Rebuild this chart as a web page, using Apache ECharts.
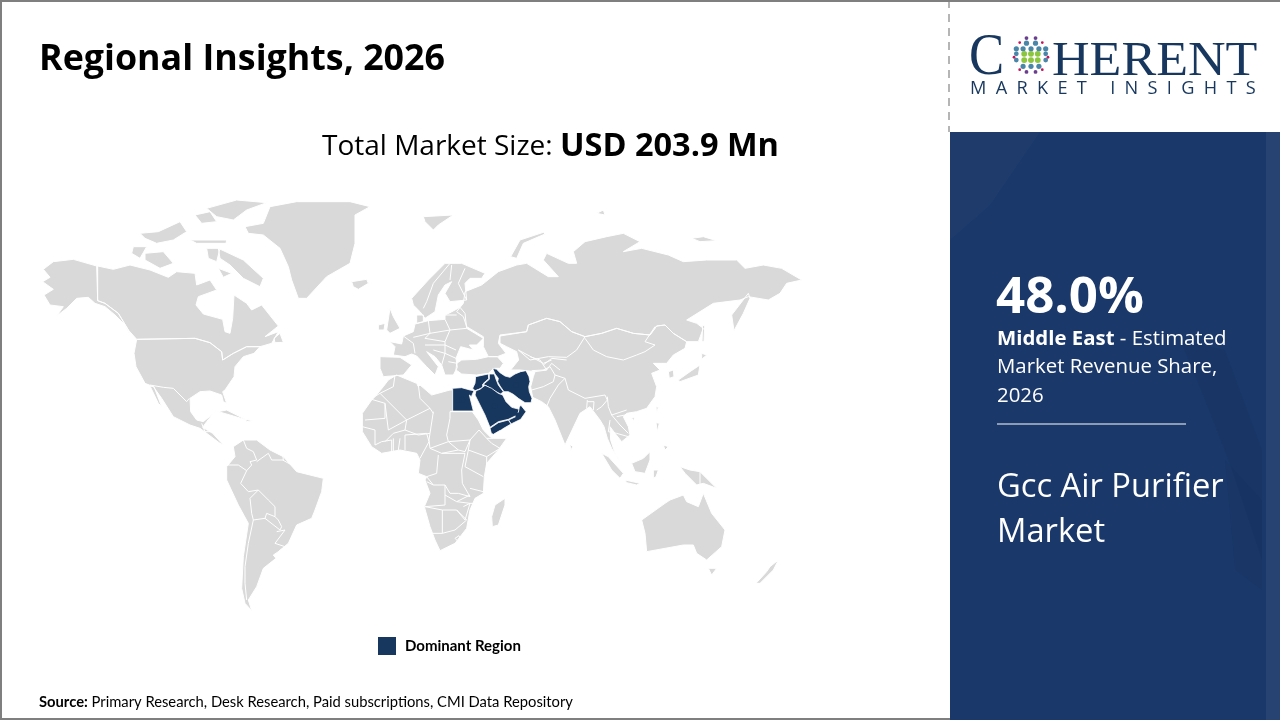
<!DOCTYPE html>
<html>
<head>
<meta charset="utf-8">
<style>
html,body{margin:0;padding:0;background:#fff;width:1280px;height:720px;overflow:hidden}
#c{position:absolute;left:0;top:0;width:1280px;height:720px}
.lg{position:absolute;color:#17375e;white-space:nowrap;line-height:1}
</style>
<script src="https://cdn.jsdelivr.net/npm/echarts@6/dist/echarts.min.js"></script>
</head>
<body>
<div id="c"></div>
<div class="lg" style="left:969px;top:20px;font:60px 'Liberation Serif';transform-origin:0 0;transform:scaleX(.88)">C</div>
<div class="lg" style="left:1052px;top:31px;font:48px 'Liberation Serif';transform-origin:0 0;transform:scaleX(1.085)">HERENT</div>
<div class="lg" style="left:970px;top:75px;font:18.2px 'Open Sans';letter-spacing:9.3px">MARKET INSIGHTS</div>
<script>
// ---------- Text content ----------
const pageTitle = 'Regional Insights, 2026';
const totalLabel = 'Total Market Size: ';
const totalValue = 'USD 203.9 Mn';
const sharePercent = '48.0%';
const shareRegion = 'Middle East';
const shareLines = [' - Estimated', 'Market Revenue Share,', '2026'];
const marketLines = ['Gcc Air Purifier', 'Market'];
const legendName = 'Dominant Region';
const sourceLabel = 'Source:';
const sourceText = ' Primary Research, Desk Research, Paid subscriptions, CMI Data Repository';

// ---------- Map outlines (each set in its own trace frame) ----------
const frameA = {x:30, y:190};
const frameB = {x:420, y:200};
const frameD = {x:430, y:350};
const frameE = {x:370, y:250};
const frameF = {x:355, y:370};
const frameG = {x:530, y:300};

const landA = [
 [[70,215],[130,208],[200,228],[203,332],[225,340],[265,370],[295,420],[300,435],[285,405],[255,375],[225,350],[195,340],[175,322],[140,325],[110,355],[80,378],[100,350],[60,345],[42,315],[70,298],[38,275],[60,262],[40,238]],
 [[203,228],[250,238],[300,225],[360,240],[415,262],[440,245],[495,250],[500,285],[540,270],[560,300],[505,320],[498,345],[520,372],[578,388],[585,425],[600,430],[608,385],[612,315],[650,340],[665,360],[695,345],[745,408],[705,440],[745,425],[725,460],[690,470],[650,470],[610,490],[578,510],[575,485],[540,458],[495,445],[320,448],[295,420],[265,370],[225,340],[203,332]],
 [[732,445],[750,430],[760,457],[735,458]],
 [[320,448],[495,445],[540,458],[575,485],[578,510],[610,490],[650,470],[690,470],[672,490],[640,500],[615,530],[612,560],[585,600],[578,605],[590,640],[580,635],[575,615],[540,603],[510,605],[480,625],[482,665],[500,690],[520,695],[548,672],[530,695],[518,712],[548,730],[580,765],[570,760],[510,715],[480,705],[430,680],[395,625],[370,590],[345,580],[318,530],[312,490]],
 [[360,588],[372,590],[395,650],[385,640]],
 [[565,665],[590,660],[650,690],[610,678]],
 [[645,688],[668,692],[650,695]],
 [[645,110],[700,100],[720,50],[800,35],[960,35],[1020,50],[975,75],[975,160],[960,220],[890,260],[830,325],[805,325],[785,270],[775,230],[750,175],[700,135],[655,130]],
 [[965,275],[1010,268],[1015,280],[985,298],[970,290]],
 [[565,175],[640,210],[700,265],[690,290],[640,265],[600,225],[570,205]],
 [[345,190],[400,185],[430,220],[390,235],[345,210]],
 [[310,170],[350,170],[330,205],[305,190]],
 [[530,55],[620,30],[710,38],[650,60],[610,90],[560,80]],
 [[495,75],[540,65],[560,95],[515,100]],
 [[330,130],[385,125],[450,95],[470,125],[430,150],[380,160],[345,145]],
 [[480,150],[590,150],[588,160],[500,160]],
 [[530,175],[570,175],[560,215],[535,205]],
 [[565,235],[605,250],[580,262]],
 [[640,750],[680,750],[720,780],[760,800],[800,845],[880,865],[875,905],[855,960],[845,985],[800,1005],[775,1060],[745,1085],[730,1095],[738,1105],[700,1135],[680,1190],[655,1230],[665,1262],[645,1240],[635,1195],[640,1100],[655,1000],[625,945],[590,870],[590,830],[615,800],[610,770]]
];
const bordersA = [
 [[590,825],[625,825],[650,842]],
 [[650,842],[665,825],[660,815],[680,810],[670,785],[650,775],[640,750]],
 [[680,815],[715,790],[725,810],[760,810],[758,790]],
 [[758,810],[785,825],[780,805]],
 [[650,842],[632,880],[655,905],[685,900],[660,925],[665,970],[670,990],[655,1060],[645,1130],[645,1180],[650,1230]],
 [[685,900],[715,930],[735,950],[735,980],[710,970],[705,985],[670,990]],
 [[705,985],[750,1020],[755,1010],[745,990],[735,980]],
 [[740,1025],[765,1020],[735,1060],[765,1070],[745,1085]],
 [[360,585],[400,592],[430,595],[470,635],[478,625]],
 [[515,700],[525,725],[548,725]]
];
const landB = [
 [[130,310],[135,275],[185,255],[235,215],[290,195],[320,190],[385,230],[415,230],[370,180],[380,160],[445,190],[470,190],[460,155],[495,125],[560,110],[610,100],[660,125],[610,155],[665,145],[745,165],[790,185],[860,180],[950,180],[975,205],[1030,195],[1085,205],[1145,240],[1100,250],[1080,280],[1045,300],[985,290],[960,300],[880,310],[800,360],[830,370],[850,385],[835,425],[800,425],[760,400],[735,375],[710,378],[690,405],[640,400],[590,385],[545,400],[495,410],[455,395],[420,365],[380,355],[325,375],[320,395],[240,405],[235,430],[258,460],[232,470],[205,470],[190,440],[190,410],[140,380],[130,350],[110,335]],
 [[240,408],[320,395],[325,375],[380,355],[420,365],[455,395],[495,410],[545,400],[590,385],[640,400],[690,405],[710,378],[735,375],[760,400],[800,425],[795,445],[760,465],[740,490],[700,490],[720,510],[695,520],[710,560],[705,590],[680,625],[650,635],[620,640],[610,650],[625,680],[630,705],[605,725],[585,700],[570,680],[572,720],[585,760],[600,785],[575,745],[562,715],[552,680],[540,660],[510,620],[480,640],[435,735],[405,660],[385,620],[365,605],[338,592],[332,560],[340,530],[345,515],[300,510],[272,510],[296,480],[290,455],[260,440],[240,430]],
 [[110,490],[125,480],[170,478],[205,470],[232,470],[250,490],[240,505],[222,505],[205,520],[170,525],[125,522],[108,510]],
 [[10,50],[100,45],[55,75],[40,90],[15,65]],
 [[370,97],[300,120],[272,170],[290,175],[310,130],[375,102]],
 [[530,40],[550,30],[555,45]],
 [[815,115],[850,110],[890,122],[840,125]],
 [[935,345],[985,280],[990,295],[970,340],[942,392]],
 [[665,960],[735,910],[750,900],[790,885],[800,905],[835,920],[850,880],[875,940],[915,990],[905,1040],[860,1080],[830,1060],[820,1035],[790,1035],[680,1055],[675,1000]],
 [[865,1105],[890,1105],[875,1125]],
 [[1075,1080],[1060,1110],[1020,1150],[1008,1150],[1040,1115],[1050,1100]]
];
const bordersB = [
 [[295,450],[330,480],[385,470],[440,472],[470,450],[495,410]],
 [[295,450],[370,490],[395,480]],
 [[345,515],[380,510],[395,490],[420,510]]
];
const dominantD = {
 'Egypt': [[68,115],[95,113],[120,120],[132,122],[124,140],[118,135],[130,183],[68,183]],
 'Levant': [[135,100],[137,80],[175,72],[176,86],[158,102],[158,112],[146,118],[135,122],[128,115]],
 'Iraq': [[178,72],[193,72],[198,88],[205,105],[220,125],[212,132],[198,125],[170,108],[160,103],[178,88]],
 'Iran': [[188,55],[200,58],[210,68],[225,78],[240,82],[255,72],[272,65],[288,62],[297,80],[300,95],[296,110],[298,125],[306,145],[303,158],[285,158],[265,145],[250,133],[235,125],[222,125],[210,108],[203,95],[205,85],[195,72]],
 'Saudi Arabia': [[138,122],[150,118],[165,106],[185,115],[205,130],[218,135],[228,155],[245,172],[268,178],[262,195],[235,208],[205,215],[190,225],[180,232],[165,195],[150,165],[135,135]],
 'Oman': [[268,172],[272,165],[288,185],[272,208],[243,222],[236,210],[263,197]],
 'Yemen': [[180,235],[205,218],[235,210],[243,222],[190,253],[184,250]]
};
const dominantNames = Object.keys(dominantD);
const landE = [
 [[30,320],[90,322],[125,345],[100,375],[40,380],[30,355]],
 [[60,275],[95,282],[100,258],[130,245],[135,222],[175,212],[225,208],[225,195],[240,188],[270,172],[285,190],[290,235],[340,265],[320,285],[298,285],[310,300],[272,290],[258,325],[262,352],[250,375],[225,375],[215,345],[195,320],[170,305],[205,350],[195,375],[170,350],[140,318],[125,312],[105,320],[70,315],[75,290]],
 [[140,195],[160,195],[160,215],[140,220]],
 [[125,145],[175,90],[225,40],[275,40],[345,70],[335,85],[300,85],[285,100],[290,150],[240,155],[225,130],[245,95],[225,105],[205,135],[195,185],[165,205],[150,185],[130,165]],
 [[60,175],[70,200],[90,235],[60,250],[50,240]],
 [[25,225],[45,220],[42,240],[25,240]]
];
const bordersE = [
 [[240,40],[190,100],[170,155],[160,175]],
 [[245,45],[240,90]],
 [[285,55],[265,100],[290,150]],
 [[100,258],[130,280],[135,310]],
 [[175,212],[180,250],[130,262]],
 [[225,208],[240,240],[180,250]],
 [[240,240],[290,235]],
 [[180,250],[165,265],[225,275],[240,240]],
 [[165,285],[225,285],[258,300]],
 [[225,275],[225,310],[258,325]],
 [[190,300],[225,310],[215,345]],
 [[225,195],[260,195]],
 [[235,335],[262,340]]
];
const landF = [
 [[100,30],[125,15],[185,40],[190,50],[195,45],[230,75],[285,60],[293,60],[293,125],[352,125],[370,150],[385,180],[405,200],[415,205],[455,205],[430,240],[395,280],[388,320],[385,370],[360,385],[345,420],[335,475],[300,520],[255,542],[240,510],[225,470],[208,410],[225,370],[210,330],[215,320],[190,310],[195,270],[185,250],[135,240],[80,250],[50,230],[22,185],[22,130],[50,90],[60,80],[85,50]],
 [[450,385],[450,405],[430,465],[412,470],[410,440],[420,405]]
];
const bordersF = [
 [[120,15],[115,50],[75,70],[50,85]],
 [[50,88],[90,100],[90,145],[30,150]],
 [[75,70],[155,150],[225,115],[195,85],[190,45]],
 [[225,115],[235,130]],
 [[293,125],[285,125],[285,145],[275,195],[280,215]],
 [[235,125],[225,190],[222,210],[225,235]],
 [[90,100],[100,180],[155,150],[150,180],[115,190],[90,215]],
 [[150,180],[190,195],[225,190]],
 [[150,195],[150,240]],
 [[150,195],[215,190],[222,215],[195,265]],
 [[225,235],[280,215],[310,240],[260,250],[225,235]],
 [[280,215],[345,210],[330,245],[310,240]],
 [[345,210],[372,180],[395,205],[415,205]],
 [[345,210],[340,240],[395,260],[435,235],[410,220],[395,205]],
 [[395,260],[395,295]],
 [[340,240],[330,290],[385,320]],
 [[260,250],[330,250],[320,300],[322,340],[345,380],[310,370],[285,370],[270,345],[235,345],[215,320],[245,310],[250,255]],
 [[345,355],[385,365]],
 [[215,335],[235,345]],
 [[270,345],[270,405],[210,410]],
 [[270,375],[305,395],[345,375]],
 [[210,410],[262,420],[262,490],[232,490]],
 [[262,420],[305,420],[335,450],[300,480],[262,490]],
 [[360,400],[345,400],[325,410]],
 [[305,395],[345,400],[330,450],[305,420]],
 [[300,505],[312,497],[320,507],[308,513],[300,505]],
 [[22,170],[60,180],[60,225]],
 [[60,225],[80,215],[110,210],[110,250]],
 [[135,205],[130,240]],
 [[115,205],[115,245]]
];
const landG = [
 [[518,75],[524,78],[522,125],[516,125]],
 [[515,160],[530,165],[515,178]],
 [[510,195],[505,225],[450,245],[445,240],[480,215]],
 [[415,215],[430,210],[432,230],[418,235]],
 [[378,320],[385,322],[380,338]],
 [[305,355],[315,352],[310,362]],
 [[378,368],[388,370],[382,395]],
 [[400,435],[415,440],[405,450]],
 [[120,432],[128,440],[122,452]],
 [[215,460],[235,470],[280,520],[270,535],[245,510]],
 [[285,540],[330,550],[320,555],[290,548]],
 [[305,490],[340,475],[360,455],[360,480],[345,520],[315,515]],
 [[370,510],[385,510],[378,530],[370,535]],
 [[450,500],[480,510],[510,515],[560,565],[520,550],[500,555],[465,520]]
];
const bordersG = [
 [[165,115],[190,150],[230,170],[280,180],[320,165],[345,155],[375,135],[345,125],[375,80]],
 [[430,185],[405,195]],
 [[0,170],[30,180],[40,195],[50,210],[40,210],[5,212]],
 [[65,175],[40,195]],
 [[65,175],[110,180]],
 [[40,210],[60,200],[75,225],[70,245],[40,260],[5,270]],
 [[75,225],[105,235],[85,255],[60,295],[50,320],[40,325]],
 [[105,235],[115,270],[165,295],[225,285],[232,300],[215,320],[200,330]],
 [[172,300],[170,325],[182,330]],
 [[172,305],[192,305],[190,330]],
 [[232,290],[235,320],[245,345],[290,330]],
 [[245,345],[270,375],[295,400]],
 [[260,350],[285,345]],
 [[240,360],[235,395],[260,400],[295,410]],
 [[510,515],[510,560]]
];

// ---------- Map construction ----------
const toMap = (frame, pts) => pts.map(p => [frame.x + p[0] / 3, frame.y + p[1] / 3]);
const toMapAll = (frame, list) => list.map(r => toMap(frame, r));
const allLand = [].concat(toMapAll(frameA, landA), toMapAll(frameB, landB), toMapAll(frameE, landE), toMapAll(frameF, landF), toMapAll(frameG, landG));
const allBorders = [].concat(toMapAll(frameA, bordersA), toMapAll(frameB, bordersB), toMapAll(frameE, bordersE), toMapAll(frameF, bordersF), toMapAll(frameG, bordersG));
const features = [
 {type:'Feature', properties:{name:'Land'}, geometry:{type:'MultiPolygon', coordinates: allLand.map(r => [r])}},
 {type:'Feature', properties:{name:'Borders'}, geometry:{type:'MultiLineString', coordinates: allBorders}}
];
dominantNames.forEach(n => features.push({type:'Feature', properties:{name:n}, geometry:{type:'Polygon', coordinates:[toMap(frameD, dominantD[n])]}}));
echarts.registerMap('world', {type:'FeatureCollection', features});

const allPts = [].concat(...allLand, ...allBorders);
const xs = allPts.map(p => p[0]), ys = allPts.map(p => p[1]);
const minX = Math.min(...xs), maxX = Math.max(...xs), minY = Math.min(...ys), maxY = Math.max(...ys);

// ---------- Decoration ----------
const NAVY = '#17375e';
const panelDecor = [
 {pts:[[950,132],[1040,132],[990,205],[950,240]], fill:'rgba(255,255,255,0.02)'},
 {pts:[[1180,340],[1205,400],[1232,470],[1262,560],[1262,450],[1225,350]], fill:'rgba(10,30,70,0.09)'},
 {pts:[[1225,460],[1262,500],[1262,590],[1235,570]], fill:'rgba(10,30,70,0.07)'},
 {pts:[[1266,132],[1280,132],[1280,720],[1266,720]], fill:'rgba(255,255,255,0.06)'}
];
const globeScale = 1.13;
const globeRows = [
 {dy:-15, xs:[-4,4], c:'#6a3d8f', r:1.7},
 {dy:-10.5, xs:[-4,4], c:'#4a86a8', r:2.3},
 {dy:-5.5, xs:[-13,-7,0,7,13], c:'#4a86a8', r:2.3},
 {dy:-1, xs:[-6,0,6], c:'#8cc63f', r:2.6},
 {dy:-1, xs:[-13,13], c:'#4a86a8', r:2.1},
 {dy:4.5, xs:[-6,0,6], c:'#8cc63f', r:2.6},
 {dy:4.5, xs:[-13,13], c:'#4a86a8', r:2.1},
 {dy:10, xs:[-7,0,7], c:'#4a86a8', r:2.3},
 {dy:15, xs:[-4,4], c:'#6a3d8f', r:1.7}
];
const globeEdge = [[-10,-11],[10,-11],[-15,2],[15,2],[-10,13],[10,13]];

const g = [];
g.push({type:'rect', z:1, shape:{x:950,y:132,width:330,height:588}, style:{fill:'#1a386a'}, silent:true});
panelDecor.forEach(d => g.push({type:'polygon', z:2, shape:{points:d.pts}, style:{fill:d.fill}, silent:true}));
g.push({type:'line', z:2, shape:{x1:949,y1:0,x2:949,y2:132}, style:{stroke:'#b5b5b5',lineWidth:2,lineDash:[8,6]}, silent:true});
g.push({type:'polyline', z:3, shape:{points:[[1280,1],[1,1],[1,719],[950,719]]}, style:{fill:'none',stroke:'#7f7f7f',lineWidth:2}, silent:true});
globeRows.forEach(r => r.xs.forEach(dx => g.push({type:'circle', z:5, shape:{cx:1031+dx*globeScale,cy:55+r.dy*globeScale,r:r.r*globeScale}, style:{fill:r.c}, silent:true})));
globeEdge.forEach(p => g.push({type:'circle', z:5, shape:{cx:1031+p[0]*globeScale,cy:55+p[1]*globeScale,r:1.4}, style:{fill:'#c2185b'}, silent:true}));
const txt = (x,y,text,font,fill,extra) => g.push({type:'text', z:6, x, y, silent:true, style:Object.assign({text, font, fill, verticalAlign:'middle'}, extra||{})});
txt(39,60,pageTitle,"bold 35.8px 'Open Sans'",'#000');
txt(322,147,'{a|'+totalLabel+'}{b|'+totalValue+'}',"28px 'Open Sans'",'#000',{rich:{a:{font:"28px 'Open Sans'",fill:'#000'},b:{font:"bold 32.5px 'Open Sans'",fill:'#000'}}});
txt(39,702,'{a|'+sourceLabel+'}{b|'+sourceText+'}',"14.75px Lato",'#000',{rich:{a:{font:"bold 14.75px Lato",fill:'#000'},b:{font:"14.75px Lato",fill:'#000'}}});
txt(996,298,sharePercent,"bold 51px 'Open Sans'",'#fff');
txt(997,339,'{a|'+shareRegion+'}{b|'+shareLines[0]+'}',"20.4px 'Open Sans'",'#fff',{rich:{a:{font:"bold 20.4px 'Open Sans'",fill:'#fff'},b:{font:"20.4px 'Open Sans'",fill:'#fff'}}});
txt(997,367,shareLines[1],"20.4px 'Open Sans'",'#fff');
txt(997,396,shareLines[2],"20.4px 'Open Sans'",'#fff');
g.push({type:'line', z:6, shape:{x1:997,y1:424,x2:1186,y2:424}, style:{stroke:'#fff',lineWidth:1}, silent:true});
txt(997,488,marketLines[0],"32.7px 'Open Sans'",'#fff');
txt(997,533,marketLines[1],"32.7px 'Open Sans'",'#fff');

const chart = echarts.init(document.getElementById('c'), null, {width:1280, height:720});
chart.setOption({
 animation:false,
 backgroundColor:'#fff',
 legend:{data:[{name:legendName, itemStyle:{color:NAVY, borderWidth:0}, icon:'rect'}], left:378, top:637, itemWidth:18, itemHeight:18, itemGap:9, selectedMode:false,
  textStyle:{fontFamily:'Lato', fontWeight:'bold', fontSize:15, color:'#000', padding:[0,0,0,4]}, padding:0},
 series:[{
  type:'map', name:legendName, map:'world', silent:true, selectedMode:false,
  projection:{project:p=>p, unproject:p=>p},
  left:minX, top:minY, width:maxX-minX, height:maxY-minY,
  itemStyle:{areaColor:'#d9d9d9', borderColor:'#ffffff', borderWidth:1, color:NAVY},
  label:{show:false}, emphasis:{disabled:true},
  data:dominantNames.map(n => ({name:n, value:1, itemStyle:{areaColor:NAVY, borderColor:'#ffffff', borderWidth:0.8}}))
 }],
 graphic:{elements:g}
});
</script>
</body>
</html>
